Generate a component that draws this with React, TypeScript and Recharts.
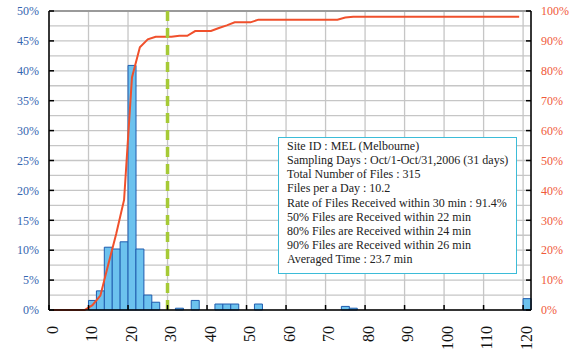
import {
  Bar,
  CartesianGrid,
  ComposedChart,
  Line,
  ReferenceLine,
  XAxis,
  YAxis,
} from "recharts";

// histogram bins are 2 min wide, starting at 0 (last bin 120-122 = overflow)
const binCenters = Array.from({ length: 61 }, (_, i) => i * 2 + 1);

// share of files per bin (%), left axis
const binPct = [
  0, 0, 0, 0, 0, // 0-10
  1.6, 3.2, 10.5, 10.2, 11.4, 40.9, 10.2, 2.5, 1.3, // 10-28
  0, 0, // 28-32
  0.3, 0, // 32-36
  1.6, 0, 0, // 36-42
  1.0, 1.0, 1.0, // 42-48
  0, 0, // 48-52
  1.0, // 52-54
  0, 0, 0, 0, 0, 0, 0, 0, 0, 0, // 54-74
  0.6, 0.3, // 74-78
  0, 0, 0, 0, 0, 0, 0, 0, 0, 0, 0, 0, 0, 0, 0, 0, 0, 0, 0, 0, 0, // 78-120
  1.9, // 120-
];

// cumulative share (%), right axis, up to the 118-120 bin
const cumPct = [
  0, 0, 0, 0, 0,
  1.6, 4.8, 15.2, 25.4, 36.8, 77.8, 87.9, 90.5, 91.4,
  91.4, 91.4,
  91.7, 91.7,
  93.3, 93.3, 93.3,
  94.3, 95.2, 96.2,
  96.2, 96.2,
  97.1,
  97.1, 97.1, 97.1, 97.1, 97.1, 97.1, 97.1, 97.1, 97.1, 97.1,
  97.8, 98.1,
  98.1, 98.1, 98.1, 98.1, 98.1, 98.1, 98.1, 98.1, 98.1, 98.1, 98.1,
  98.1, 98.1, 98.1, 98.1, 98.1, 98.1, 98.1, 98.1, 98.1, 98.1,
];

const xTicks = [0, 10, 20, 30, 40, 50, 60, 70, 80, 90, 100, 110, 120];
const leftTicks = [0, 5, 10, 15, 20, 25, 30, 35, 40, 45, 50];
const rightTicks = [0, 10, 20, 30, 40, 50, 60, 70, 80, 90, 100];
// horizontal grid every 5% of the right axis (2.5% of the left)
const gridTicks = [
  0, 5, 10, 15, 20, 25, 30, 35, 40, 45, 50, 55, 60, 65, 70, 75, 80, 85, 90, 95, 100,
];

const infoLines = [
  "Site ID : MEL (Melbourne)",
  "Sampling Days : Oct/1-Oct/31,2006 (31 days)",
  "Total Number of Files : 315",
  "Files per a Day : 10.2",
  "Rate of Files Received within 30 min : 91.4%",
  "50% Files are Received within 22 min",
  "80% Files are Received within 24 min",
  "90% Files are Received within 26 min",
  "Averaged Time : 23.7 min",
];

const FONT = "'Liberation Serif', 'Times New Roman', serif";

const data = binCenters.map((x, i) => ({
  x,
  pct: binPct[i],
  cum: i < cumPct.length ? cumPct[i] : null,
}));

function XTick(props: any) {
  const { x, y, payload } = props;
  return (
    <text
      x={x}
      y={y}
      transform={`rotate(-90, ${x}, ${y})`}
      textAnchor="end"
      dy="0.55em"
      fontSize={16}
      fontFamily={FONT}
      fill="#111"
    >
      {payload.value}
    </text>
  );
}

export default function App() {
  return (
    <div style={{ position: "absolute", left: 0, top: 0, width: 577, height: 354 }}>
      <ComposedChart
        width={577}
        height={354}
        data={data}
        margin={{ top: 11, right: 0, bottom: 0, left: 0 }}
        barCategoryGap={0}
        barGap={0}
      >
        <CartesianGrid
          stroke="#c6c6c6"
          strokeWidth={1.3}
          horizontalCoordinatesGenerator={({ offset }: any) =>
            gridTicks.map((v) => offset.top + offset.height * (1 - v / 100))
          }
        />
        <XAxis
          dataKey="x"
          type="number"
          domain={[0, 122]}
          ticks={xTicks}
          interval={0}
          height={44}
          axisLine={{ stroke: "#000", strokeWidth: 1.5 }}
          tickLine={{ stroke: "#000", strokeWidth: 1.5 }}
          tickSize={-5}
          tickMargin={21}
          tick={<XTick />}
        />
        <YAxis
          yAxisId="left"
          domain={[0, 50]}
          ticks={leftTicks}
          interval={0}
          width={49}
          tickFormatter={(v) => `${v}%`}
          axisLine={{ stroke: "#000", strokeWidth: 1.5 }}
          tickLine={{ stroke: "#000", strokeWidth: 1.5 }}
          tickSize={-5}
          tickMargin={15}
          tick={{ fill: "#3566b0", fontSize: 12, fontFamily: FONT }}
        />
        <YAxis
          yAxisId="right"
          orientation="right"
          domain={[0, 100]}
          ticks={rightTicks}
          interval={0}
          width={46}
          tickFormatter={(v) => `${v}%`}
          axisLine={{ stroke: "#000", strokeWidth: 1.5 }}
          tickLine={{ stroke: "#000", strokeWidth: 1.5 }}
          tickSize={-5}
          tickMargin={15}
          tick={{ fill: "#f05a3a", fontSize: 12, fontFamily: FONT, textAnchor: "start" }}
        />
        <ReferenceLine yAxisId="right" y={100} stroke="#9a9a9a" strokeWidth={2} />
        <Bar
          yAxisId="left"
          dataKey="pct"
          fill="#6cc2ee"
          stroke="#1f5cae"
          strokeWidth={1}
          isAnimationActive={false}
        />
        <Line
          yAxisId="right"
          dataKey="cum"
          type="linear"
          stroke="#f0502c"
          strokeWidth={2}
          dot={false}
          activeDot={false}
          isAnimationActive={false}
        />
        <ReferenceLine
          yAxisId="left"
          x={30}
          stroke="#a6ca36"
          strokeWidth={3.5}
          strokeDasharray="10 7"
        />
      </ComposedChart>
      <div
        style={{
          position: "absolute",
          left: 278,
          top: 137,
          width: 239,
          height: 137,
          boxSizing: "border-box",
          border: "1.5px solid #3cbcd8",
          background: "#fff",
          padding: "1px 0 0 8px",
          fontFamily: FONT,
          fontSize: 12,
          lineHeight: "14.15px",
          color: "#222",
          whiteSpace: "nowrap",
        }}
      >
        {infoLines.map((t) => (
          <div key={t}>{t}</div>
        ))}
      </div>
    </div>
  );
}
